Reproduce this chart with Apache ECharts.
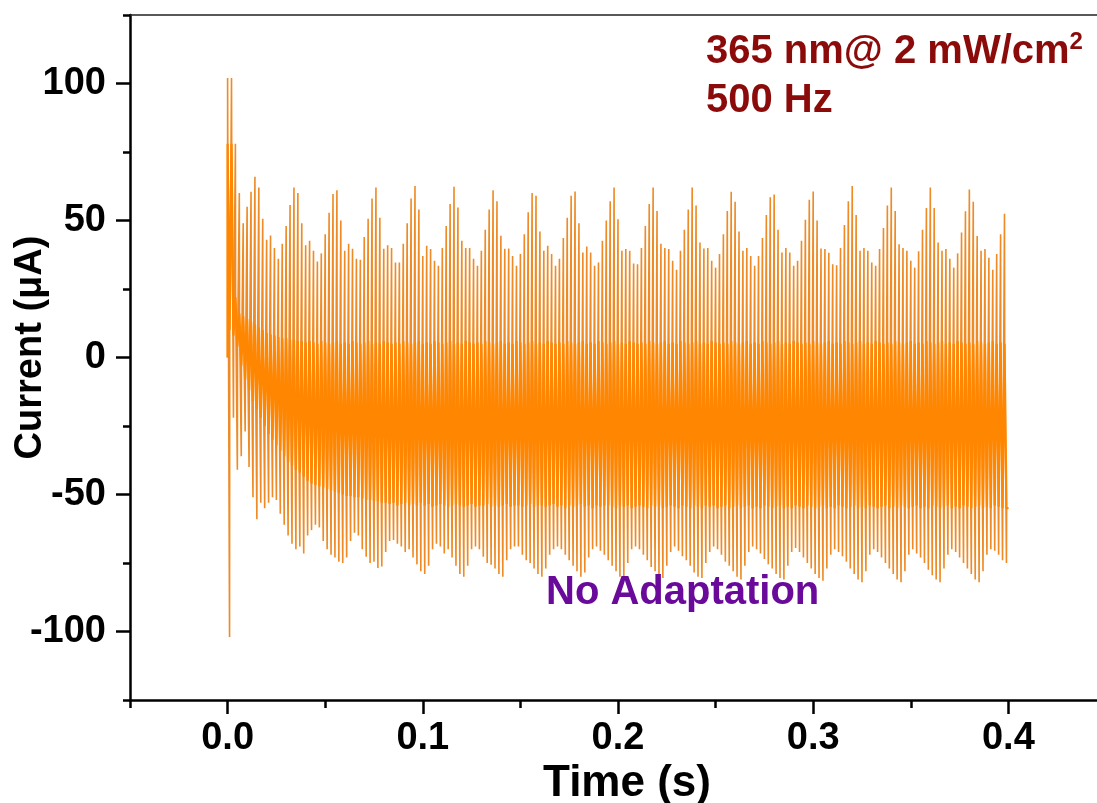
<!DOCTYPE html>
<html>
<head>
<meta charset="utf-8">
<script src="https://cdn.jsdelivr.net/npm/echarts@6/dist/echarts.min.js"></script>
<style>
html,body{margin:0;padding:0;background:#fff;}
#chart{width:1097px;height:803px;}
</style>
</head>
<body>
<div id="chart"></div>
<script>
// ---- data (one entry per 500 Hz light cycle, 0 ... 0.4 s) ----
const FREQ_HZ = 500;
const START_TIME = 0.0;

// positive spike at light-on, µA
const upPeaks = [
  102, 102, 78, 60, 49, 55, 60.5, 66, 62, 50.6,
  43, 44.5, 40, 36, 41.5, 48, 55.7, 62, 60, 49,
  41, 42.6, 39, 35, 38, 45, 52.8, 59.7, 61, 50,
  39, 41.5, 39.7, 36, 35.7, 44, 50.6, 58, 62, 51,
  39.7, 41, 40, 34.7, 34.7, 41.5, 49, 58, 62.6, 54,
  37, 40.8, 39.6, 35.3, 33.5, 40, 48, 56, 62.3, 54.7,
  42.6, 40, 40, 36, 33.5, 39, 46.6, 54, 61, 57,
  44.4, 39.7, 39.8, 37, 33.5, 37.8, 45, 53, 60, 59,
  46, 39, 40.8, 37.8, 33.5, 36, 43.6, 51, 59, 60.6,
  49, 38.3, 40.5, 38.3, 33.5, 34.7, 42.6, 50, 57, 62,
  50.5, 39, 39.6, 39, 34.3, 34, 40, 48, 56, 62,
  53.5, 41.5, 40, 39.6, 35.3, 32, 39, 46.6, 54, 62,
  55.5, 42, 39.8, 40, 35.3, 32.8, 37.8, 45, 53.5, 60.5,
  56.8, 46, 39, 40, 37, 33.5, 37, 43.6, 52, 58.5,
  59.5, 46.6, 38.3, 40, 38.3, 33.5, 35.3, 42.6, 50.3, 57.6,
  60.6, 50, 39.8, 39.6, 38.2, 34, 33.7, 40, 48.4, 57,
  62.6, 52, 39, 40, 39, 34.7, 33.5, 39.6, 47.3, 55.5,
  62, 53.5, 41.3, 40, 39, 35.3, 32.8, 38.8, 46.6, 54.6,
  62, 54.6, 42, 39, 39.6, 36, 32.8, 38, 45.6, 53.4,
  61.3, 56.8, 44.3, 39, 39.6, 36.4, 32, 37.8, 45, 52.5
];

// negative spike at light-off, µA
const downPeaks = [
  -102, -22, -41, -36, -27, -40, -51, -59, -53, -55,
  -53, -51, -52, -57, -61, -65, -68, -70, -69, -71.5,
  -65, -63, -61, -62, -67, -70, -72, -73, -74.5, -75,
  -73, -67, -64, -65, -70, -72.7, -75, -74.5, -76.8, -76.3,
  -71, -67, -66.6, -68, -69, -71, -70, -73, -75.5, -78,
  -79, -76, -70, -68, -69, -71.5, -70, -73, -76, -79,
  -80, -76, -70, -69, -70, -72.7, -75, -75.6, -77, -79,
  -80, -74, -70, -69, -69, -72, -74, -75, -77, -79,
  -80, -77, -72, -70, -69, -70, -72, -74, -76, -78,
  -80, -78.5, -73, -70, -69, -70.5, -72, -74, -76, -78,
  -80, -80.5, -75, -70, -69, -70, -72, -74, -76.5, -78,
  -80, -80.5, -76, -71, -69, -70.5, -72.5, -74, -76, -78.5,
  -80, -80.5, -75, -71, -69, -70, -72, -74.5, -76, -78,
  -80, -81, -76, -71, -69, -70, -71.5, -73.5, -75.5, -77,
  -79, -80.5, -81, -76, -71, -69.5, -71, -73, -75, -77,
  -79, -80.5, -81.5, -77, -72, -70, -71, -72.5, -74.5, -77,
  -79, -81, -82, -78, -72, -70, -71, -73, -75, -77,
  -79, -81, -82, -78, -72, -70, -71.5, -73, -75, -77.5,
  -79.5, -81, -82, -77, -72, -70, -71, -73, -75, -77,
  -79, -81, -82, -78, -72, -70, -70.5, -72, -74, -75
];

// level the current settles to while the light is on, µA
const bandTop = [
  78, 78, 22, 16, 15, 14, 13, 12, 11, 10,
  9, 8.5, 8, 7.5, 7, 7, 6.5, 6.5, 6, 6,
  5.5, 6, 5.5, 5, 6, 5.5, 5, 5.5, 6, 5,
  5.5, 5, 6, 5.5, 5, 5.5, 6, 5, 5.5, 5,
  6, 5.5, 5, 5.5, 5, 6, 5.5, 5, 5.5, 6,
  5, 5.5, 5, 6, 5.5, 5, 5.5, 6, 5, 5.5,
  5, 6, 5.5, 5, 5.5, 5, 6, 5.5, 5, 5.5,
  6, 5, 5.5, 5, 6, 5.5, 5, 5.5, 6, 5,
  5.5, 5, 6, 5.5, 5, 5.5, 5, 6, 5.5, 5,
  5.5, 6, 5, 5.5, 5, 6, 5.5, 5, 5.5, 6,
  5, 5.5, 5, 6, 5.5, 5, 5.5, 5, 6, 5.5,
  5, 5.5, 6, 5, 5.5, 5, 6, 5.5, 5, 5.5,
  6, 5, 5.5, 5, 6, 5.5, 5, 5.5, 5, 6,
  5.5, 5, 5.5, 6, 5, 5.5, 5, 6, 5.5, 5,
  5.5, 6, 5, 5.5, 5, 6, 5.5, 5, 5.5, 5,
  6, 5.5, 5, 5.5, 6, 5, 5.5, 5, 6, 5.5,
  5, 5.5, 6, 5, 5.5, 5, 6, 5.5, 5, 5.5,
  5, 6, 5.5, 5, 5.5, 6, 5, 5.5, 5, 6,
  5.5, 5, 5.5, 6, 5, 5.5, 5, 6, 5.5, 5,
  5.5, 5, 6, 5.5, 5, 5.5, 6, 5, 5.5, 5
];

// level the current settles to while the light is off, µA
const bandBottom = [
  10, 8, 4, -3, -8, -12, -16, -19, -22, -25,
  -28, -30, -32, -34, -36, -38, -39.5, -41, -42, -43.5,
  -45, -46, -46.5, -47, -47.5, -48, -48.5, -49, -49.5, -50,
  -50.5, -50.5, -51, -51, -51.5, -52, -52, -52.5, -52.5, -53,
  -53, -53.5, -53, -54, -53.5, -53, -54, -53.5, -54, -53,
  -54, -53.5, -54.5, -54, -53.5, -54, -54.5, -54, -53.5, -54,
  -54.5, -54, -53.5, -54.5, -54, -54, -53.5, -54.5, -54, -54.5,
  -54, -53.5, -54.5, -54, -54, -54.5, -54, -53.5, -54.5, -54,
  -54, -54.5, -54, -53.5, -54.5, -54, -55, -54, -54.5, -54,
  -53.5, -54.5, -54, -55, -54, -54.5, -54, -54, -54.5, -55,
  -54, -54.5, -54, -55, -54.5, -54, -54.5, -55, -54, -54.5,
  -54, -55, -54.5, -54, -54.5, -55, -54, -54.5, -55, -54,
  -54.5, -55, -54, -54.5, -54, -55, -54.5, -54, -55, -54.5,
  -54, -55, -54.5, -54, -55, -54.5, -55, -54, -54.5, -55,
  -54.5, -54, -55, -54.5, -55, -54, -54.5, -55, -54, -54.5,
  -55, -54.5, -54, -55, -54.5, -55, -54, -54.5, -55, -54.5,
  -54, -55, -54.5, -55, -54, -54.5, -55, -54.5, -54, -55,
  -54.5, -55, -54, -54.5, -55, -54.5, -54, -55, -54.5, -55,
  -54, -54.5, -55, -54.5, -54, -55, -54.5, -55, -54, -54.5,
  -55, -54.5, -54, -55, -54.5, -55, -54, -54.5, -55, -55
];

// axis ticks
const xMajorTicks = [0, 0.1, 0.2, 0.3, 0.4];
const xMinorTicks = [-0.05, 0.05, 0.15, 0.25, 0.35, 0.45];
const yMajorTicks = [-100, -50, 0, 50, 100];
const yMinorTicks = [-125, -75, -25, 25, 75, 125];

// ---- build the square-wave trace from the per-cycle readings ----
const period = 1 / FREQ_HZ;
const settle = period * 0.05;
const trace = [];   // full signal incl. spikes
const band = [];    // the settled on/off levels (dense band)
let prevLevel = 0;
for (let k = 0; k < upPeaks.length; k++) {
  const tOn = START_TIME + k * period;
  const tOff = tOn + period / 2;
  trace.push([tOn, prevLevel]);
  trace.push([tOn, upPeaks[k]]);
  trace.push([tOn + settle, bandTop[k]]);
  trace.push([tOff, bandTop[k]]);
  trace.push([tOff, downPeaks[k]]);
  trace.push([tOff + settle, bandBottom[k]]);
  band.push([tOn, prevLevel]);
  band.push([tOn, bandTop[k]]);
  band.push([tOff, bandTop[k]]);
  band.push([tOff, bandBottom[k]]);
  prevLevel = bandBottom[k];
}
trace.push([START_TIME + upPeaks.length * period, prevLevel]);
band.push([START_TIME + upPeaks.length * period, prevLevel]);

const FONT = '"Liberation Sans", Arial, sans-serif';
const chart = echarts.init(document.getElementById('chart'), null, {renderer: 'canvas'});

const option = {
  animation: false,
  backgroundColor: '#ffffff',
  grid: {left: 130, top: 15, width: 976, height: 685, containLabel: false, outerBoundsMode: 'none'},
  xAxis: [
    {
      type: 'value', min: -0.05, max: 0.45, position: 'bottom',
      axisLine: {show: true, onZero: false, lineStyle: {color: '#000', width: 2.5}},
      axisTick: {show: true, customValues: xMajorTicks, length: 14, lineStyle: {color: '#000', width: 2.5}},
      axisLabel: {show: true, customValues: xMajorTicks, formatter: v => v.toFixed(1),
        fontSize: 38, fontWeight: 'bold', fontFamily: FONT, color: '#000', margin: 20},
      splitLine: {show: false},
      name: 'Time (s)', nameLocation: 'middle', nameGap: 62, nameMoveOverlap: false,
      nameTextStyle: {fontSize: 44, fontWeight: 'bold', fontFamily: FONT, color: '#000', padding: [0, 0, 0, 18]}
    },
    {
      type: 'value', min: -0.05, max: 0.45, position: 'bottom',
      axisLine: {show: false, onZero: false},
      axisTick: {show: true, customValues: xMinorTicks, length: 8, lineStyle: {color: '#000', width: 2.5}},
      axisLabel: {show: false},
      splitLine: {show: false}
    },
    {
      type: 'value', min: -0.05, max: 0.45, position: 'top',
      axisLine: {show: true, onZero: false, lineStyle: {color: '#222', width: 1.5}},
      axisTick: {show: false}, axisLabel: {show: false}, splitLine: {show: false}
    }
  ],
  yAxis: [
    {
      type: 'value', min: -125, max: 125, position: 'left',
      axisLine: {show: true, onZero: false, lineStyle: {color: '#000', width: 2.5}},
      axisTick: {show: true, customValues: yMajorTicks, length: 14, lineStyle: {color: '#000', width: 2.5}},
      axisLabel: {show: true, customValues: yMajorTicks, formatter: v => String(v),
        fontSize: 38, fontWeight: 'bold', fontFamily: FONT, color: '#000', margin: 24},
      splitLine: {show: false},
      name: 'Current (\u03bcA)', nameLocation: 'middle', nameGap: 80, nameMoveOverlap: false,
      nameTextStyle: {fontSize: 38, fontWeight: 'bold', fontFamily: FONT, color: '#000', padding: [0, 0, 0, 20]}
    },
    {
      type: 'value', min: -125, max: 125, position: 'left',
      axisLine: {show: false, onZero: false},
      axisTick: {show: true, customValues: yMinorTicks, length: 7, lineStyle: {color: '#000', width: 2.5}},
      axisLabel: {show: false},
      splitLine: {show: false}
    }
  ],
  series: [
    {
      name: 'signal', type: 'line', xAxisIndex: 0, yAxisIndex: 0,
      data: trace, showSymbol: false, symbol: 'none',
      lineStyle: {color: '#EE8B26', width: 1.6},
      itemStyle: {color: '#EE8B26'},
      silent: true, clip: true, z: 2
    },
    {
      name: 'band', type: 'line', xAxisIndex: 0, yAxisIndex: 0,
      data: band, showSymbol: false, symbol: 'none',
      lineStyle: {color: '#FF8600', width: 2.3},
      itemStyle: {color: '#FF8600'},
      silent: true, clip: true, z: 3
    }
  ],
  graphic: [
    {
      type: 'text', left: 706, top: 30, z: 10,
      style: {
        text: '{a|365 nm@ 2 mW/cm}{s|2}',
        rich: {
          a: {fontSize: 40, fontWeight: 'bold', fontFamily: FONT, fill: '#8B0A0A', lineHeight: 44},
          s: {fontSize: 24, fontWeight: 'bold', fontFamily: FONT, fill: '#8B0A0A', verticalAlign: 'top', lineHeight: 24}
        }
      }
    },
    {
      type: 'text', left: 706, top: 81, z: 10,
      style: {text: '500 Hz', fontSize: 40, fontWeight: 'bold', fontFamily: FONT, fill: '#8B0A0A'}
    },
    {
      type: 'text', left: 546, top: 573, z: 10,
      style: {text: 'No Adaptation', fontSize: 40, fontWeight: 'bold', fontFamily: FONT, fill: '#6A0A9A'}
    }
  ]
};
chart.setOption(option);
</script>
</body>
</html>
